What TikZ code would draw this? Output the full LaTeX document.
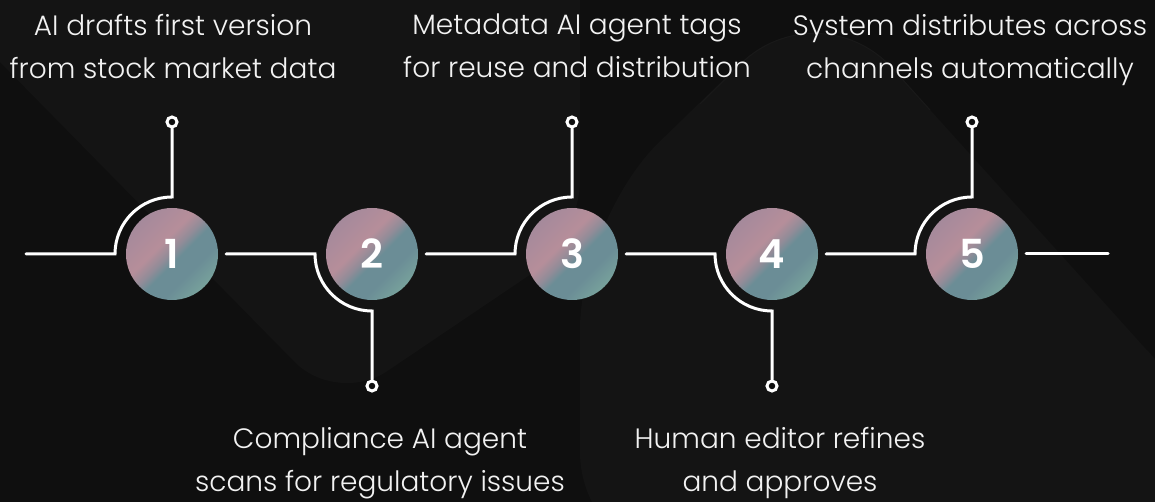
\documentclass[tikz,border=0pt]{standalone}
\usepackage{fontspec}
\IfFontExistsTF{Poppins Light}{\setmainfont{Poppins Light}}{\setmainfont{Poppins}}
\IfFontExistsTF{Poppins SemiBold}{\newfontfamily\digitfont{Poppins SemiBold}}{\newfontfamily\digitfont{Poppins}[FakeBold=1.2]}
\usetikzlibrary{calc}

% palette
\definecolor{bgdark}{HTML}{0F0F0F}
\definecolor{bgpanel}{HTML}{141414}
\definecolor{bgrim}{HTML}{191919}
\definecolor{wirewhite}{HTML}{FFFFFF}
\definecolor{textwhite}{HTML}{F2F2F2}
\definecolor{gMauve}{HTML}{9C879C}
\definecolor{gPink}{HTML}{B68E9A}
\definecolor{gMid}{HTML}{928C98}
\definecolor{gTeal}{HTML}{6B8D96}
\definecolor{gMint}{HTML}{7FAE9F}

% diagonal gradient used for the numbered discs
\pgfdeclarehorizontalshading{discgrad}{100bp}{%
  color(0bp)=(gMauve); color(16bp)=(gMauve); color(42bp)=(gPink);
  color(49bp)=(gMid); color(54bp)=(gTeal); color(64bp)=(gTeal);
  color(82bp)=(gMint); color(100bp)=(gMint)}

\tikzset{
  disc/.style={circle, minimum size=92pt, inner sep=0pt, shading=discgrad,
    shading angle=-45, text=white, font=\digitfont\fontsize{40}{40}\selectfont},
  pin/.style={circle, draw=wirewhite, line width=3pt, fill=bgdark,
    minimum size=10pt, inner sep=0pt},
  wire/.style={draw=wirewhite, line width=3pt, line cap=round, line join=miter},
  caption/.style={text=textwhite, align=center, inner sep=0pt, anchor=north,
    font=\fontsize{28}{43}\selectfont},
}

\begin{document}
\begin{tikzpicture}[x=1pt, y=1pt]
  % backdrop
  \fill[bgdark] (0,0) rectangle (1155,502);
  \useasboundingbox (0,0) rectangle (1155,502);
  \begin{scope}
    \clip (0,0) rectangle (1155,502);
    \fill[bgpanel, rounded corners=60pt]
      (-61,502) -- (337,97) -- (580,261) -- (580,560) -- (-61,560) -- cycle;
    \fill[bgpanel, rounded corners=110pt]
      (580,-60) -- (580,283) -- (819,515) -- (1155,143) -- (1220,70) -- (1220,-60) -- cycle;
    \draw[bgrim, line width=1pt, rounded corners=110pt]
      (700,398) -- (819,515) -- (930,392);
  \end{scope}

  % numbered discs
  \node[disc] (c1) at (172,248) {1};
  \node[disc] (c2) at (372,248) {2};
  \node[disc] (c3) at (572,248) {3};
  \node[disc] (c4) at (772,248) {4};
  \node[disc] (c5) at (972,248) {5};

  % end pins of the branches
  \node[pin] (p1) at (172,380) {};
  \node[pin] (p2) at (372,116) {};
  \node[pin] (p3) at (572,380) {};
  \node[pin] (p4) at (772,116) {};
  \node[pin] (p5) at (972,380) {};

  % free ends of the timeline
  \coordinate (start) at (26,248);
  \coordinate (finish) at (1108,248);

  % branch starts, just left of each disc
  \coordinate (a1) at ($(c1.center)+(-57,0)$);
  \coordinate (a2) at ($(c2.center)+(-57,0)$);
  \coordinate (a3) at ($(c3.center)+(-57,0)$);
  \coordinate (a4) at ($(c4.center)+(-57,0)$);
  \coordinate (a5) at ($(c5.center)+(-57,0)$);

  % timeline with the quarter-arc branches
  \draw[wire] (start) -- (a1) arc[start angle=180, end angle=90, radius=57pt] -- (p1.south);
  \draw[wire] ($(c1.east)+(8,0)$) -- (a2) arc[start angle=180, end angle=270, radius=57pt] -- (p2.north);
  \draw[wire] ($(c2.east)+(8,0)$) -- (a3) arc[start angle=180, end angle=90, radius=57pt] -- (p3.south);
  \draw[wire] ($(c3.east)+(8,0)$) -- (a4) arc[start angle=180, end angle=270, radius=57pt] -- (p4.north);
  \draw[wire] ($(c4.east)+(8,0)$) -- (a5) arc[start angle=180, end angle=90, radius=57pt] -- (p5.south);
  \draw[wire] ($(c5.east)+(8,0)$) -- (finish);

  % captions
  \node[caption] (t1) at (173,488) {AI drafts first version\\from stock market data};
  \node[caption] (t3) at (577,488) {Metadata AI agent tags\\for reuse and distribution};
  \node[caption] (t5) at (970,488) {System distributes across\\channels automatically};
  \node[caption] (t2) at (380,75) {Compliance AI agent\\scans for regulatory issues};
  \node[caption] (t4) at (780,75) {Human editor refines\\and approves};
\end{tikzpicture}
\end{document}
